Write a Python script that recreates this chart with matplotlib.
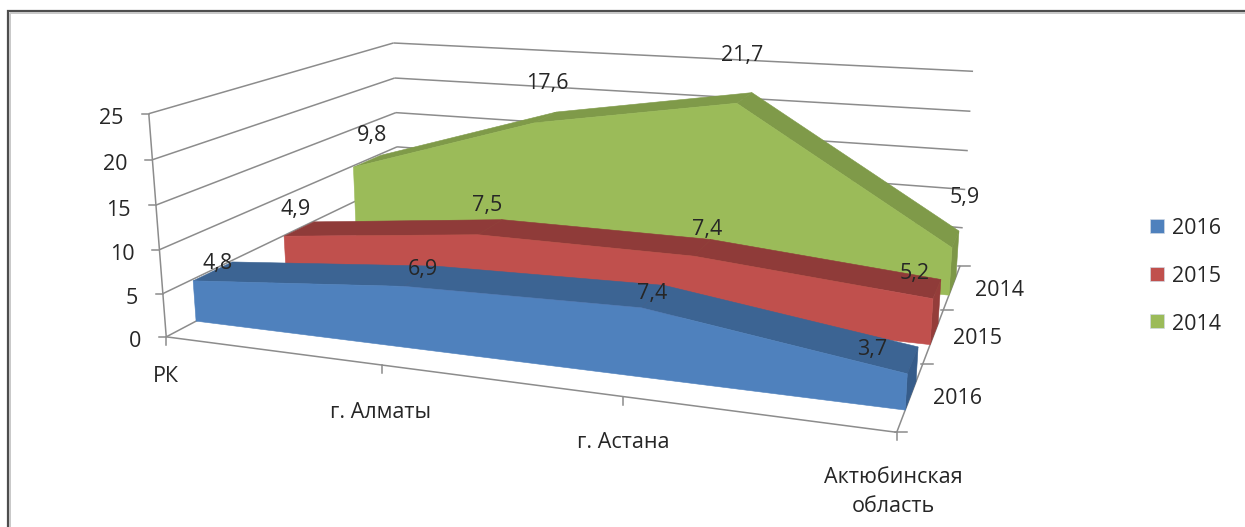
# объёмная диаграмма с областями: проекция задаётся матрицей камеры
import numpy as np
import matplotlib
matplotlib.use('Agg')
from matplotlib import pyplot as plt
from matplotlib.patches import Polygon, Rectangle

plt.rcParams['font.family'] = ['Open Sans', 'DejaVu Sans']

categories = ['РК', 'г. Алматы', 'г. Астана', 'Актюбинская\nобласть']
series_names = ['2016', '2015', '2014']
values_2016 = [4.8, 6.9, 7.4, 3.7]
values_2015 = [4.9, 7.5, 7.4, 5.2]
values_2014 = [9.8, 17.6, 21.7, 5.9]
y_ticks = [0, 5, 10, 15, 20, 25]

W, H = 1245, 527
TEXT = '#262626'
GRID = '#8c8c8c'
FS = 15.5

# цвета: передняя грань, верхняя грань, боковая грань
colors = {
    '2016': ('#4f81bd', '#3c6493', '#365c8a'),
    '2015': ('#c0504d', '#8f3b39', '#943d3a'),
    '2014': ('#9bbb59', '#7f9a49', '#7d9747'),
}
# положение полос по глубине (0 спереди, 1 у задней стенки)
depths = {'2016': (0.10, 0.24), '2015': (0.445, 0.575), '2014': (0.77, 0.91)}

# места подписей в пикселях
category_pos = [(166, 376), (381, 412), (623, 443), (893, 492)]
depth_label_pos = {'2016': (957, 399), '2015': (978, 338), '2014': (999, 290)}
value_label_pos = {
    '2016': [(218, 263), (423, 269), (652, 294), (872, 350)],
    '2015': [(296, 210), (487, 205), (707, 230), (915, 273)],
    '2014': [(372, 136), (547, 83), (742, 56), (965, 198)],
}

# опорные точки: (категория 0..3, значение, глубина 0..1) -> пиксели
anchors = [
    (0, 0, 0, 166, 337), (0, 5, 0, 163, 293), (0, 10, 0, 160, 249),
    (0, 15, 0, 157, 205), (0, 20, 0, 153, 160), (0, 25, 0, 148, 113),
    (0, 0, 1, 400, 214), (0, 10, 1, 397, 147), (0, 15, 1, 395, 112),
    (0, 20, 1, 395, 78), (0, 25, 1, 393, 43),
    (3, 0, 0, 894, 431), (1, 0, 0, 381, 368), (2, 0, 0, 622, 398),
    (3, 0, 1 / 3, 925, 363), (3, 0, 2 / 3, 947, 308), (3, 0, 1, 958, 266),
    (3, 5, 1, 962, 228), (3, 10, 1, 965, 190), (3, 15, 1, 968, 150),
    (3, 20, 1, 971, 112), (3, 25, 1, 973, 72),
]


def fit_camera(points):
    rows = []
    for x, y, z, u, v in points:
        p = [x, y, z, 1]
        rows.append(p + [0, 0, 0, 0] + [-u * c for c in p])
        rows.append([0, 0, 0, 0] + p + [-v * c for c in p])
    rows = np.array(rows, dtype=float)
    scale = np.array([1, 25, 1, 1] * 2 + [1000, 25000, 1000, 1000])
    _, _, vt = np.linalg.svd(rows / scale)
    return (vt[-1] / scale).reshape(3, 4)


CAM = fit_camera(anchors)


def project(x, y, z):
    u, v, w = CAM @ np.array([x, y, z, 1.0])
    return u / w, v / w


fig = plt.figure(figsize=(W / 100, H / 100), dpi=100)
ax = fig.add_axes([0, 0, 1, 1])
ax.set_xlim(0, W)
ax.set_ylim(H, 0)
ax.axis('off')


def line(a, b, color=GRID, lw=1.1, zorder=1):
    pa, pb = project(*a), project(*b)
    ax.plot([pa[0], pb[0]], [pa[1], pb[1]], color=color, lw=lw, zorder=zorder,
            solid_capstyle='butt')


# рамка области диаграммы
ax.add_patch(Rectangle((7.5, 10.5), W + 20, H + 20, fc='white', ec='#4d4d4d', lw=1.6, zorder=0))
ax.add_patch(Rectangle((9.5, 12.5), W + 20, H + 20, fc='none', ec='#c8c8c8', lw=1.4, zorder=0))

# сетка на левой и задней стенках
for t in y_ticks[1:]:
    line((0, t, 0), (0, t, 1))
    line((0, t, 1), (3, t, 1))

# оси и засечки
line((0, 0, 0), (0, 0, 1), zorder=5)
line((0, 0, 0), (3, 0, 0), zorder=5)
line((0, 0, 0), (0, 25, 0), zorder=5)
line((3, 0, 0), (3, 0, 1), zorder=5)

for t in y_ticks:
    u, v = project(0, t, 0)
    ax.plot([u - 7, u], [v, v], color=GRID, lw=1.1, zorder=5)
    ax.text(u - 25, v + 5, str(t), ha='right', va='center', fontsize=FS, color=TEXT, zorder=9)
for i in range(len(categories)):
    u, v = project(i, 0, 0)
    ax.plot([u, u], [v, v + 8], color=GRID, lw=1.1, zorder=5)
for k in range(4):
    u, v = project(3, 0, k / 3)
    ax.plot([u - 2, u + 10], [v, v], color=GRID, lw=1.1, zorder=5)

# подписи категорий и рядов глубины
for name, pos in zip(categories, category_pos):
    ax.text(pos[0], pos[1], name, ha='center', va='center', fontsize=FS, color=TEXT,
            linespacing=1.5, zorder=9)
for name in series_names:
    u, v = depth_label_pos[name]
    ax.text(u, v, name, ha='center', va='center', fontsize=FS, color=TEXT, zorder=9)

# области: от дальнего ряда к ближнему
all_values = {'2016': values_2016, '2015': values_2015, '2014': values_2014}
z_level = 10
for name in reversed(series_names):
    vals = all_values[name]
    front, top, side = colors[name]
    z0, z1 = depths[name]
    n = len(vals)
    for i in range(n - 1):
        strip = [project(i, vals[i], z0), project(i + 1, vals[i + 1], z0),
                 project(i + 1, vals[i + 1], z1), project(i, vals[i], z1)]
        ax.add_patch(Polygon(strip, fc=top, ec=top, lw=0.4, zorder=z_level))
    end = [project(n - 1, 0, z0), project(n - 1, vals[-1], z0),
           project(n - 1, vals[-1], z1), project(n - 1, 0, z1)]
    ax.add_patch(Polygon(end, fc=side, ec=side, lw=0.4, zorder=z_level))
    face = [project(0, 0, z0)] + [project(i, vals[i], z0) for i in range(n)] + [project(n - 1, 0, z0)]
    ax.add_patch(Polygon(face, fc=front, ec=front, lw=0.4, zorder=z_level + 1))
    z_level += 2

# подписи значений
for name in series_names:
    for val, (u, v) in zip(all_values[name], value_label_pos[name]):
        ax.text(u, v, str(val).replace('.', ','), ha='center', va='center',
                fontsize=FS, color=TEXT, zorder=30)

# легенда
for k, name in enumerate(series_names):
    y = 226 + k * 47.5
    ax.add_patch(Rectangle((1150, y - 7), 14, 14, fc=colors[name][0], ec='#d0d8e4', lw=0.5, zorder=9))
    ax.text(1172, y + 3, name, ha='left', va='center', fontsize=FS, color=TEXT, zorder=9)

fig.savefig('out.png', dpi=100)
